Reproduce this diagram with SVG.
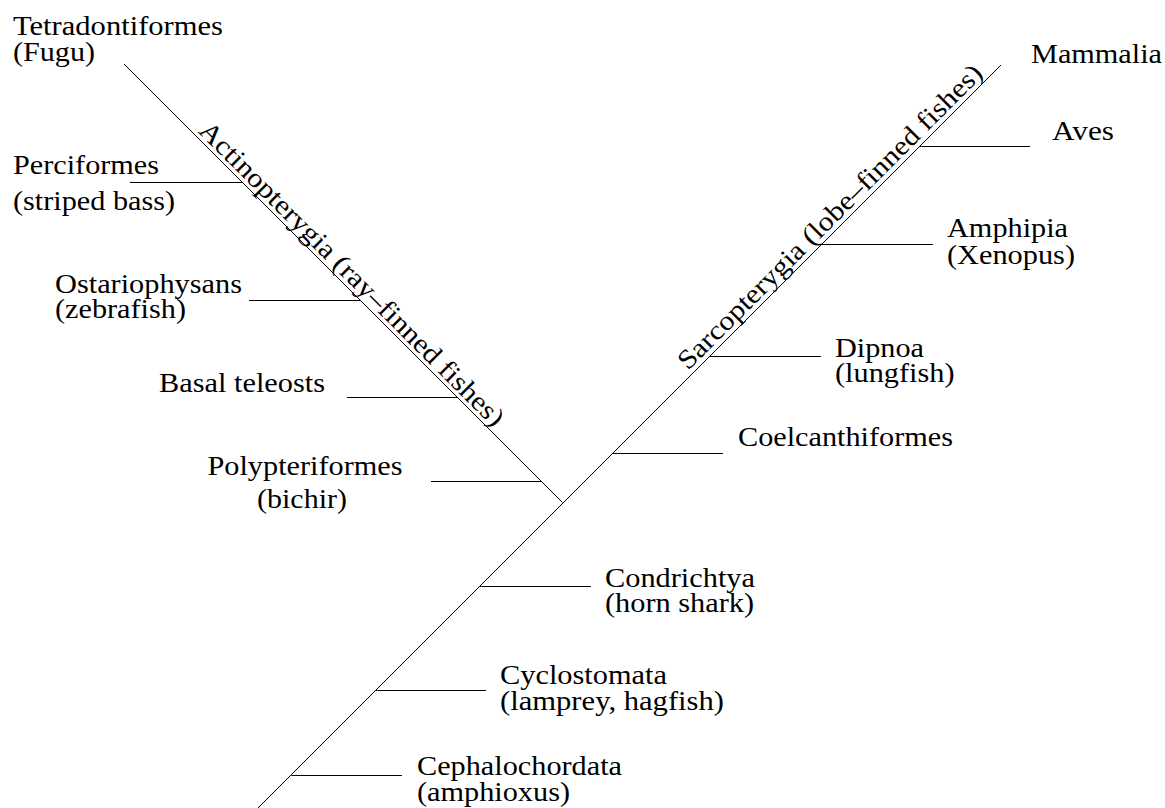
<svg xmlns="http://www.w3.org/2000/svg" width="1165" height="808" viewBox="0 0 1165 808">
  <style>
    .br { stroke: #000; stroke-width: 1; fill: none; }
    .lbl { font-size: 27px; fill: #000; }
  </style>
  <rect width="1165" height="808" fill="#fff"/>

  <!-- tree branches -->
  <g id="connectors">
    <line class="br" x1="256.5" y1="809.5" x2="1001" y2="65"/>
    <line class="br" x1="124" y1="64" x2="562.5" y2="502.5"/>
    <!-- ray-finned side -->
    <line class="br" x1="130" y1="182.5" x2="242.5" y2="182.5"/>
    <line class="br" x1="249" y1="300.5" x2="360.5" y2="300.5"/>
    <line class="br" x1="347" y1="397.5" x2="457.5" y2="397.5"/>
    <line class="br" x1="431" y1="481.5" x2="541.5" y2="481.5"/>
    <!-- lobe-finned and basal side -->
    <line class="br" x1="919" y1="146.5" x2="1030" y2="146.5"/>
    <line class="br" x1="821" y1="244.5" x2="933" y2="244.5"/>
    <line class="br" x1="709.5" y1="356.5" x2="821" y2="356.5"/>
    <line class="br" x1="612" y1="453.5" x2="723" y2="453.5"/>
    <line class="br" x1="479" y1="586.5" x2="591" y2="586.5"/>
    <line class="br" x1="375" y1="690.5" x2="486" y2="690.5"/>
    <line class="br" x1="291.5" y1="775.5" x2="402" y2="775.5"/>
  </g>

  <g font-family="Liberation Serif, Times New Roman, serif">
    <!-- clade labels along the stems -->
    <g id="clade-actinopterygia">
      <text class="lbl" transform="translate(197.5 131.9) rotate(45)" textLength="419" lengthAdjust="spacingAndGlyphs">Actinopterygia (ray–finned fishes)</text>
    </g>
    <g id="clade-sarcopterygia">
      <text class="lbl" transform="translate(687.9 371.1) rotate(-45)" textLength="419" lengthAdjust="spacingAndGlyphs">Sarcopterygia (lobe–finned fishes)</text>
    </g>

    <!-- taxa -->
    <g id="tetradontiformes">
      <text class="lbl" x="13" y="35" textLength="210" lengthAdjust="spacingAndGlyphs">Tetradontiformes</text>
      <text class="lbl" x="13" y="61" textLength="82" lengthAdjust="spacingAndGlyphs">(Fugu)</text>
    </g>
    <g id="perciformes">
      <text class="lbl" x="13" y="174" textLength="146" lengthAdjust="spacingAndGlyphs">Perciformes</text>
      <text class="lbl" x="13" y="210" textLength="162" lengthAdjust="spacingAndGlyphs">(striped bass)</text>
    </g>
    <g id="ostariophysans">
      <text class="lbl" x="55" y="293" textLength="187" lengthAdjust="spacingAndGlyphs">Ostariophysans</text>
      <text class="lbl" x="55" y="318" textLength="131" lengthAdjust="spacingAndGlyphs">(zebrafish)</text>
    </g>
    <g id="basal-teleosts">
      <text class="lbl" x="159" y="392" textLength="166" lengthAdjust="spacingAndGlyphs">Basal teleosts</text>
    </g>
    <g id="polypteriformes">
      <text class="lbl" x="207.5" y="475" textLength="195" lengthAdjust="spacingAndGlyphs">Polypteriformes</text>
      <text class="lbl" x="257" y="507.5" textLength="90" lengthAdjust="spacingAndGlyphs">(bichir)</text>
    </g>
    <g id="mammalia">
      <text class="lbl" x="1031" y="63" textLength="131" lengthAdjust="spacingAndGlyphs">Mammalia</text>
    </g>
    <g id="aves">
      <text class="lbl" x="1052" y="140" textLength="62" lengthAdjust="spacingAndGlyphs">Aves</text>
    </g>
    <g id="amphipia">
      <text class="lbl" x="947" y="237" textLength="121" lengthAdjust="spacingAndGlyphs">Amphipia</text>
      <text class="lbl" x="947" y="264" textLength="128" lengthAdjust="spacingAndGlyphs">(Xenopus)</text>
    </g>
    <g id="dipnoa">
      <text class="lbl" x="835" y="356.5" textLength="89" lengthAdjust="spacingAndGlyphs">Dipnoa</text>
      <text class="lbl" x="835" y="382" textLength="119.5" lengthAdjust="spacingAndGlyphs">(lungfish)</text>
    </g>
    <g id="coelcanthiformes">
      <text class="lbl" x="738" y="445.5" textLength="215" lengthAdjust="spacingAndGlyphs">Coelcanthiformes</text>
    </g>
    <g id="condrichtya">
      <text class="lbl" x="605" y="587" textLength="150" lengthAdjust="spacingAndGlyphs">Condrichtya</text>
      <text class="lbl" x="605" y="612" textLength="149" lengthAdjust="spacingAndGlyphs">(horn shark)</text>
    </g>
    <g id="cyclostomata">
      <text class="lbl" x="500" y="683.5" textLength="167" lengthAdjust="spacingAndGlyphs">Cyclostomata</text>
      <text class="lbl" x="500" y="710" textLength="224" lengthAdjust="spacingAndGlyphs">(lamprey, hagfish)</text>
    </g>
    <g id="cephalochordata">
      <text class="lbl" x="417" y="775" textLength="205" lengthAdjust="spacingAndGlyphs">Cephalochordata</text>
      <text class="lbl" x="417" y="801" textLength="153" lengthAdjust="spacingAndGlyphs">(amphioxus)</text>
    </g>
  </g>
</svg>
